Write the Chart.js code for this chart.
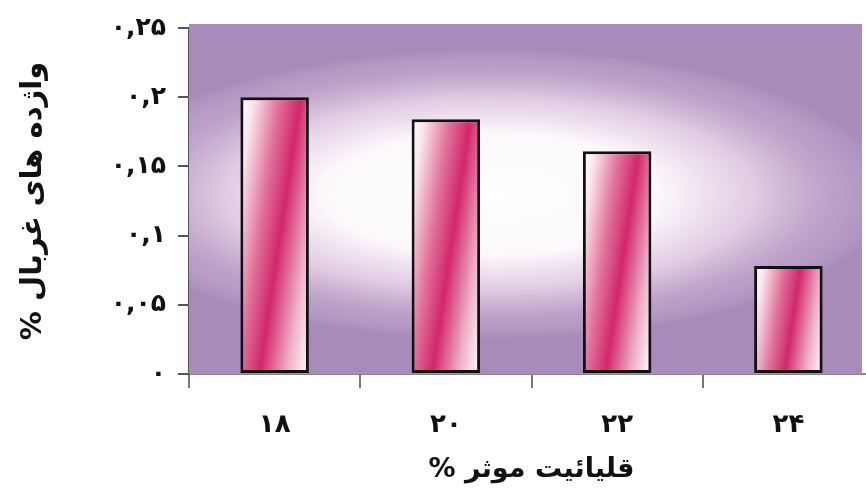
<!DOCTYPE html>
<html>
<head>
<meta charset="utf-8">
<script src="https://cdn.jsdelivr.net/npm/chart.js@4"></script>
<style>
html,body{margin:0;padding:0;background:#fff;overflow:hidden;width:866px;height:494px;}
#wrap{width:874px;height:494px;}
</style>
</head>
<body>
<div id="wrap"><canvas id="c" width="874" height="494"></canvas></div>
<script>
const categories = ['۱۸', '۲۰', '۲۲', '۲۴'];
const values = [0.200, 0.184, 0.161, 0.078];
const yTickLabels = ['۰', '۰,۰۵', '۰,۱', '۰,۱۵', '۰,۲', '۰,۲۵'];
const xTitle = 'قلیائیت موثر %\u200F';
const yTitle = 'واژده های غربال %\u200F';

const FONT = "'DejaVu Sans', sans-serif";

const bgPlugin = {
  id: 'bg',
  beforeDatasetsDraw(chart) {
    const {ctx, chartArea: a} = chart;
    ctx.save();
    const top = a.top - 4;
    const right = 862;
    ctx.fillStyle = '#a98bbb';
    ctx.fillRect(a.left, top, right - a.left, a.bottom - top);
    ctx.beginPath();
    ctx.rect(a.left, top, right - a.left, a.bottom - top);
    ctx.clip();
    const cx = 490;
    const cy = a.top + (a.bottom - a.top) * 0.48;
    const rx = 400, ry = 145;
    ctx.translate(cx, cy);
    ctx.scale(1, ry / rx);
    const g = ctx.createRadialGradient(0, 0, 0, 0, 0, rx);
    g.addColorStop(0, 'rgba(255,255,255,1)');
    g.addColorStop(0.42, 'rgba(255,252,254,0.97)');
    g.addColorStop(0.66, 'rgba(248,232,244,0.7)');
    g.addColorStop(0.86, 'rgba(230,205,228,0.3)');
    g.addColorStop(1, 'rgba(255,255,255,0)');
    ctx.fillStyle = g;
    ctx.fillRect(-rx, -rx, 2 * rx, 2 * rx);
    ctx.restore();
  }
};

function barGradient(context) {
  const chart = context.chart;
  const xs = chart.scales.x, ys = chart.scales.y;
  if (!xs || !ys || context.type !== 'data' || !chart.chartArea) return '#d42a6c';
  const i = context.dataIndex;
  const cxp = xs.getPixelForValue(i);
  const w = xs.width / categories.length * 0.40;
  const x0 = cxp - w / 2;
  const y0 = ys.getPixelForValue(values[i]);
  const yb = ys.getPixelForValue(0);
  if (![cxp, w, y0, yb].every(Number.isFinite) || w <= 0) return '#d42a6c';
  const h = Math.max(1, yb - y0);
  const a = 1, b = 0.15;
  const s = (w * a + h * b) / (a * a + b * b);
  const g = chart.ctx.createLinearGradient(x0, y0, x0 + a * s, y0 + b * s);
  g.addColorStop(0, '#ffffff');
  g.addColorStop(0.12, '#fbe6ee');
  g.addColorStop(0.35, '#e4739c');
  g.addColorStop(0.55, '#d2276a');
  g.addColorStop(0.8, '#eeb0c8');
  g.addColorStop(1, '#ffffff');
  return g;
}

new Chart(document.getElementById('c'), {
  type: 'bar',
  data: {
    labels: categories,
    datasets: [{
      data: values,
      backgroundColor: barGradient,
      borderColor: '#111',
      borderWidth: 3,
      borderSkipped: false,
      barPercentage: 0.40,
      categoryPercentage: 1.0
    }]
  },
  options: {
    responsive: false,
    animation: false,
    devicePixelRatio: 1,
    layout: {padding: {top: 28, right: 0, left: 0, bottom: 0}},
    plugins: {legend: {display: false}, tooltip: {enabled: false}},
    scales: {
      x: {
        grid: {display: true, offset: true, drawOnChartArea: false, tickLength: 14, color: '#777', lineWidth: 2},
        border: {display: true, color: '#888', width: 2},
        ticks: {color: '#111', font: {family: FONT, size: 26, weight: 'bold'}, padding: 22},
        title: {display: true, text: xTitle, color: '#111', font: {family: FONT, size: 27, weight: 'bold'}, padding: {top: 0, bottom: 8}},
        afterFit(scale) { scale.height = 120; }
      },
      y: {
        min: 0, max: 0.25,
        ticks: {
          stepSize: 0.05,
          color: '#111',
          font: {family: FONT, size: 25, weight: 'bold'},
          padding: 12,
          callback: (v, i) => yTickLabels[i]
        },
        grid: {display: true, drawOnChartArea: false, tickLength: 11, color: '#555', lineWidth: 2},
        border: {display: true, color: '#555', width: 2},
        title: {display: true, text: yTitle, color: '#111', font: {family: FONT, size: 29, weight: 'bold'}, padding: {top: 16, bottom: 0}},
        afterFit(scale) { scale.width = 189; }
      }
    }
  },
  plugins: [bgPlugin]
});
</script>
</body>
</html>
